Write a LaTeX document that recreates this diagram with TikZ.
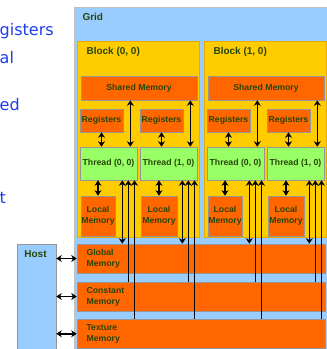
\documentclass[tikz,border=0pt]{standalone}
\usepackage{fontspec}
\setmainfont{Liberation Sans}
\newfontfamily\notefont{DejaVu Sans}
\usetikzlibrary{arrows.meta,calc}
\definecolor{gridBlue}{RGB}{153,204,255}
\definecolor{blockYellow}{RGB}{255,204,0}
\definecolor{blockEdge}{RGB}{230,170,0}
\definecolor{memOrange}{RGB}{255,102,0}
\definecolor{threadGreen}{RGB}{153,255,102}
\definecolor{boxEdge}{RGB}{150,150,150}
\definecolor{labelGreen}{RGB}{40,70,10}
\definecolor{noteBlue}{RGB}{30,60,240}

\begin{document}
\begin{tikzpicture}[
    x=1pt, y=-1pt,
    every node/.style={font=\bfseries\fontsize{8.7}{11}\selectfont, text=labelGreen},
    box/.style={rectangle, draw=boxEdge, line width=0.6pt, inner sep=0pt, align=center},
    mem/.style={box, fill=memOrange},
    regbox/.style={mem, minimum width=43, minimum height=23},
    thrbox/.style={box, fill=threadGreen, minimum width=57, minimum height=33},
    blockbox/.style={rectangle, draw=blockEdge, line width=0.8pt, fill=blockYellow,
        minimum width=122, minimum height=196},
    bigmem/.style={mem, minimum width=248.5, minimum height=29},
    title/.style={font=\bfseries\fontsize{10}{12}\selectfont},
    note/.style={font=\notefont\fontsize{16}{19}\selectfont, text=noteBlue, inner sep=0pt},
    dblarrow/.style={{Stealth[length=5.5pt,width=7pt]}-{Stealth[length=5.5pt,width=7pt]}, line width=1.6pt},
    uparrow/.style={-{Stealth[length=5.5pt,width=7pt]}, line width=1.6pt},
    ]
    \clip (0,0) rectangle (327,349);
    % Cut-off slide text
    \node[note, anchor=base west] (n1) at (-0.5,35) {gisters};
    \node[note, anchor=base west] (n2) at (-0.5,63) {al};
    \node[note, anchor=base west] (n3) at (-0.5,110) {ed};
    \node[note, anchor=base west] (n4) at (-0.5,203) {t};
    % Grid
    \node[rectangle, draw=boxEdge!60, fill=gridBlue, minimum width=262, minimum height=354]
      (grid) at (205,184) {};
    \node[title, anchor=west] (gridlbl) at (79,17) {Grid};
    % Blocks
    \foreach \b/\dx in {0/0,1/127} {
      \node[blockbox] (blk\b) at (138+\dx,139) {};
      \node[title, anchor=west] (blklbl\b) at (83+\dx,52) {Block (\b, 0)};
      \node[mem, minimum width=116, minimum height=24] (sh\b) at (139+\dx,88) {Shared Memory};
      \foreach \t/\lx/\lw in {0/98/34,1/159/36} {
        \node[regbox] (reg\b\t) at (101.5+60*\t+\dx,120.5) {Registers};
        \node[thrbox] (thr\b\t) at (108.5+60*\t+\dx,163.5) {Thread (\t, 0)};
        \node[mem, minimum width=\lw, minimum height=40] (loc\b\t) at (\lx+\dx,216) {Local\\Memory};
      }
    }
    % Global, constant and texture memory
    \node[bigmem] (glob) at (201.25,258.5) {};
    \node[anchor=west, align=left] (globlbl) at (83,258.5) {Global\\Memory};
    \node[bigmem] (cons) at (201.25,296.5) {};
    \node[anchor=west, align=left] (conslbl) at (83,296.5) {Constant\\Memory};
    \node[bigmem, minimum height=29.5] (tex) at (201.25,333.75) {};
    \node[anchor=west, align=left] (texlbl) at (83,333.5) {Texture\\Memory};
    % Host
    \node[box, fill=gridBlue, minimum width=39, minimum height=116] (host) at (36.5,302) {};
    \node[title] (hostlbl) at (35.5,254) {Host};
    \draw[dblarrow] (host.east |- glob) -- (glob.west);
    \draw[dblarrow] (host.east |- cons) -- (cons.west);
    \draw[dblarrow] (host.east |- tex) -- (tex.west);
    % Per-thread arrows
    \foreach \b in {0,1} {
      \foreach \t in {0,1} {
        \coordinate (s\b\t) at ($(thr\b\t.north east)+(-7,0)$);
        \coordinate (g\b\t) at ($(thr\b\t.south east)+(-15,0)$);
        \coordinate (c\b\t) at ($(thr\b\t.south east)+(-9,0)$);
        \coordinate (x\b\t) at ($(thr\b\t.south east)+(-2.8,0)$);
        \draw[dblarrow] (reg\b\t.south) -- (reg\b\t.south |- thr\b\t.north);
        \draw[dblarrow] (s\b\t |- sh\b.south) -- (s\b\t);
        \draw[dblarrow] (thr\b\t.south -| loc\b\t) -- (loc\b\t.north);
        \draw[dblarrow] (g\b\t) -- (g\b\t |- glob.north);
        \draw[uparrow] (c\b\t |- cons.north) -- (c\b\t);
        \draw[uparrow] (x\b\t |- tex.north) -- (x\b\t);
      }
    }
  \end{tikzpicture}
\end{document}
